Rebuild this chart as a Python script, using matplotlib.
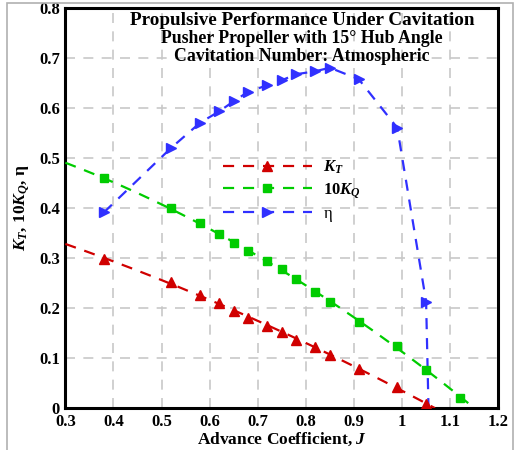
import numpy as np
import matplotlib
matplotlib.use("Agg")
import matplotlib.pyplot as plt
from matplotlib.patches import Rectangle

# values
j_kt = [0.38, 0.52, 0.58, 0.62, 0.65, 0.68, 0.72, 0.75, 0.78, 0.82, 0.85, 0.91, 0.99, 1.05]
kt = [0.298, 0.251, 0.227, 0.210, 0.195, 0.180, 0.165, 0.152, 0.137, 0.122, 0.107, 0.078, 0.042, 0.009]

j_kq = [0.38, 0.52, 0.58, 0.62, 0.65, 0.68, 0.72, 0.75, 0.78, 0.82, 0.85, 0.91, 0.99, 1.05, 1.12]
kq10 = [0.459, 0.400, 0.369, 0.347, 0.329, 0.313, 0.293, 0.277, 0.257, 0.233, 0.213, 0.173, 0.125, 0.077, 0.021]

# last eta point (J=1.055, 0) only closes the curve to the axis, no marker
j_eta = [0.38, 0.52, 0.58, 0.62, 0.65, 0.68, 0.72, 0.75, 0.78, 0.82, 0.85, 0.91, 0.99, 1.05, 1.055]
eta = [0.391, 0.520, 0.570, 0.593, 0.613, 0.632, 0.645, 0.655, 0.667, 0.673, 0.680, 0.657, 0.560, 0.213, 0.0]

x_ticks = [0.3, 0.4, 0.5, 0.6, 0.7, 0.8, 0.9, 1.0, 1.1, 1.2]
y_ticks = [0, 0.1, 0.2, 0.3, 0.4, 0.5, 0.6, 0.7, 0.8]

title_lines = ["Propulsive Performance Under Cavitation",
               "Pusher Propeller with 15\u00b0 Hub Angle",
               "Cavitation Number: Atmospheric"]

plt.rcParams["font.family"] = ["Liberation Serif", "DejaVu Serif"]
plt.rcParams["font.weight"] = "bold"
plt.rcParams["mathtext.fontset"] = "custom"
plt.rcParams["mathtext.rm"] = "Liberation Serif:bold"
plt.rcParams["mathtext.it"] = "Liberation Serif:italic:bold"
plt.rcParams["mathtext.bf"] = "Liberation Serif:bold"
plt.rcParams["mathtext.bfit"] = "Liberation Serif:italic:bold"

RED = "#d00000"
GREEN = "#00cc00"
BLUE = "#3030ff"

fig = plt.figure(figsize=(5.19, 4.5), dpi=100)
ax = fig.add_axes([0.126, 0.093, 0.834, 0.890])

fig.patches.append(Rectangle((0.0135, -0.05), 0.975, 1.043, transform=fig.transFigure,
                             fill=False, edgecolor="#b0b0b0", linewidth=1.2, zorder=0))

dash = (0, (5, 4))


def fit_curve(x, y):
    # quadratic trend, drawn from J=0.3 down to where it meets zero
    c = np.polyfit(x, y, 2)
    roots = np.roots(c)
    roots = [r.real for r in roots if abs(r.imag) < 1e-9 and r.real > max(x) - 0.1]
    x_end = min(roots)
    xs = np.linspace(0.3, x_end, 200)
    return xs, np.polyval(c, xs)


xs, ys = fit_curve(j_kt, kt)
ax.plot(xs, ys, color=RED, lw=1.6, linestyle=dash, zorder=3)
ax.plot(j_kt, kt, linestyle="none", marker="^", ms=7, color=RED, zorder=4)

xs, ys = fit_curve(j_kq, kq10)
ax.plot(xs, ys, color=GREEN, lw=1.6, linestyle=dash, zorder=3)
ax.plot(j_kq, kq10, linestyle="none", marker="s", ms=6.3, color=GREEN, zorder=4)

ax.plot(j_eta, eta, color=BLUE, lw=1.6, linestyle=dash, marker=">", ms=7,
        markevery=list(range(len(j_eta) - 1)), zorder=3)

# legend handles
h1, = ax.plot([], [], color=RED, lw=1.6, linestyle=dash, marker="^", ms=7)
h2, = ax.plot([], [], color=GREEN, lw=1.6, linestyle=dash, marker="s", ms=6.3)
h3, = ax.plot([], [], color=BLUE, lw=1.6, linestyle=dash, marker=">", ms=7)
leg = ax.legend([h1, h2, h3],
                [r"$\mathbfit{K}_{\mathit{T}}$", r"10$\mathbfit{K}_{\mathit{Q}}$", "\u03b7"],
                loc="upper left", bbox_to_anchor=(0.33, 0.66), frameon=False,
                numpoints=1, handlelength=5.3, handletextpad=0.7,
                labelspacing=0.3, prop={"size": 12, "weight": "bold"})
leg.texts[2].set_fontweight("normal")

ax.set_xlim(0.3, 1.2)
ax.set_ylim(0, 0.8)
ax.set_xticks(x_ticks)
ax.set_yticks(y_ticks)
ax.set_xticklabels([f"{v:g}" for v in x_ticks])
ax.set_yticklabels([f"{v:g}" for v in y_ticks])
ax.tick_params(direction="in", length=0, labelsize=12, pad=4)
for lab in ax.get_xticklabels() + ax.get_yticklabels():
    lab.set_fontweight("bold")

ax.grid(True, color="#c8c8c8", linestyle=(0, (6, 5)), linewidth=1.2)
ax.set_axisbelow(True)
for s in ax.spines.values():
    s.set_linewidth(2.2)
    s.set_color("black")

ax.set_xlabel(r"Advance Coefficient, $\mathbfit{J}$", fontsize=12.5, fontweight="bold", labelpad=1)
ax.set_ylabel(r"$\mathbfit{K}_{\mathit{T}}$, 10$\mathbfit{K}_{\mathit{Q}}$, " + "\u03b7",
              fontsize=12.5, fontweight="bold", labelpad=5)

ax.text(0.547, 0.969, title_lines[0], transform=ax.transAxes, ha="center", va="center",
        fontsize=13.8, fontweight="bold")
ax.text(0.547, 0.924, title_lines[1], transform=ax.transAxes, ha="center", va="center",
        fontsize=12.8, fontweight="bold")
ax.text(0.547, 0.877, title_lines[2], transform=ax.transAxes, ha="center", va="center",
        fontsize=12.8, fontweight="bold")

fig.savefig("out.png", dpi=100)
